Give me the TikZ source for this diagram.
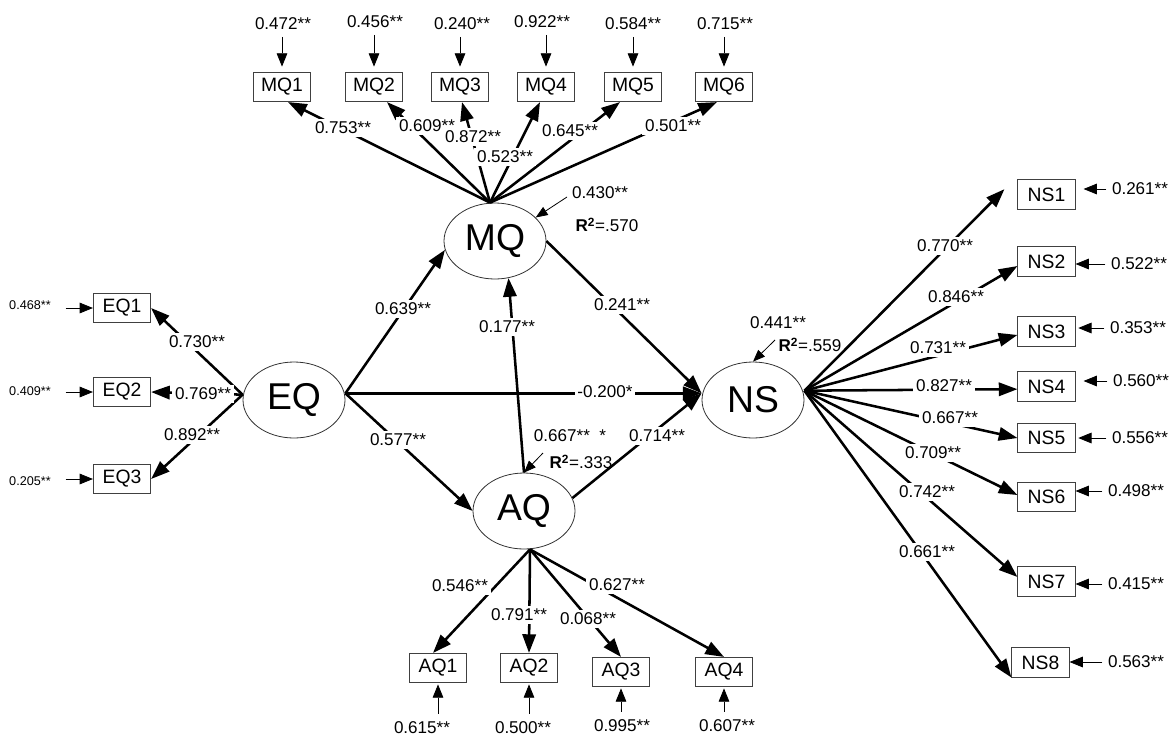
\documentclass[tikz,border=0pt]{standalone}
\usepackage{fontspec}
\setmainfont{Liberation Sans}
\usetikzlibrary{arrows.meta,shapes.geometric,calc}
\begin{document}
\begin{tikzpicture}[x=0.75pt,y=-0.75pt,
 lat/.style={ellipse,draw=black!80,line width=0.6pt,minimum width=76.5pt,minimum height=57pt,inner sep=0pt,font=\fontsize{28}{30}\selectfont},
 ind/.style={rectangle,draw=black!75,line width=0.6pt,minimum width=43pt,minimum height=22pt,inner sep=0pt,font=\fontsize{14.5}{16}\selectfont},
 lbl/.style={font=\fontsize{12.8}{14}\selectfont,inner sep=1pt},
 onl/.style={lbl,fill=white,inner xsep=2pt,inner ysep=2pt},
 sml/.style={font=\fontsize{9.5}{11}\selectfont,inner sep=1pt},
 load/.style={line width=1.9pt,-{Triangle[length=14pt,width=10pt]}},
 res/.style={line width=0.6pt,-{Triangle[length=10pt,width=8pt]}},
 dist/.style={line width=0.6pt,-{Triangle[length=9pt,width=7pt]}}
]
\path[use as bounding box] (0,0) rectangle (1170,736);

% latent variables
\node[lat] (MQ) at (495,241) {MQ};
\node[lat] (EQ) at (294,400) {EQ};
\node[lat] (AQ) at (524,511) {AQ};
\node[lat] (NS) at (753,400) {NS};

% MQ indicators
\node[ind] (mq1) at (282,87) {MQ1};
\node[ind] (mq2) at (374,87) {MQ2};
\node[ind] (mq3) at (460,87) {MQ3};
\node[ind] (mq4) at (546,87) {MQ4};
\node[ind] (mq5) at (633,87) {MQ5};
\node[ind] (mq6) at (724,87) {MQ6};
\node[lbl] (rm1) at (283,24) {0.472**};
\node[lbl] (rm2) at (375,22) {0.456**};
\node[lbl] (rm3) at (462,24) {0.240**};
\node[lbl] (rm4) at (542,22) {0.922**};
\node[lbl] (rm5) at (633,24) {0.584**};
\node[lbl] (rm6) at (725,24) {0.715**};
\foreach \i in {1,...,6}{
  \draw[res,shorten <=4pt,shorten >=4pt] (rm\i.south -| mq\i.north) -- (mq\i.north);
}

% EQ indicators
\node[ind] (eq1) at (122,308) {EQ1};
\node[ind] (eq2) at (122,392) {EQ2};
\node[ind] (eq3) at (122,479) {EQ3};
\node[sml] (re1) at (30,305) {0.468**};
\node[sml] (re2) at (30,391) {0.409**};
\node[sml] (re3) at (30,481) {0.205**};
\foreach \i in {1,2,3}{
  \draw[res,shorten <=10pt] (re\i.east |- eq\i.west) -- (eq\i.west);
}

% AQ indicators
\node[ind] (aq1) at (438,668) {AQ1};
\node[ind] (aq2) at (529,668) {AQ2};
\node[ind] (aq3) at (621,672) {AQ3};
\node[ind] (aq4) at (724,672) {AQ4};
\node[lbl] (ra1) at (422,728) {0.615**};
\node[lbl] (ra2) at (523,728) {0.500**};
\node[lbl] (ra3) at (622,726) {0.995**};
\node[lbl] (ra4) at (727,726) {0.607**};
\foreach \i in {1,...,4}{
  \draw[res,shorten <=5pt,shorten >=1pt] (ra\i.north -| aq\i.south) -- (aq\i.south);
}

% NS indicators
\node[ind] (ns1) at (1046.5,194.5) {NS1};
\node[ind] (ns2) at (1046.5,261.5) {NS2};
\node[ind] (ns3) at (1046.5,331.5) {NS3};
\node[ind] (ns4) at (1046.5,386.5) {NS4};
\node[ind] (ns5) at (1046.5,438) {NS5};
\node[ind] (ns6) at (1046.5,497) {NS6};
\node[ind] (ns7) at (1046.5,581.5) {NS7};
\node[ind] (ns8) at (1040.5,662.5) {NS8};
\node[lbl] (rn1) at (1140,189) {0.261**};
\node[lbl] (rn2) at (1139,264) {0.522**};
\node[lbl] (rn3) at (1138,328) {0.353**};
\node[lbl] (rn4) at (1141,381) {0.560**};
\node[lbl] (rn5) at (1140,438) {0.556**};
\node[lbl] (rn6) at (1136,491) {0.498**};
\node[lbl] (rn7) at (1136,584) {0.415**};
\node[lbl] (rn8) at (1136,662) {0.563**};
\draw[res,shorten <=3pt,shorten >=6pt] (rn1.west) -- (rn1.west -| ns1.east);
\draw[res,shorten <=3pt] (rn2.west) -- (rn2.west -| ns2.east);
\draw[res,shorten <=3pt,shorten >=2pt] (rn3.west) -- (rn3.west -| ns3.east);
\draw[res,shorten <=3pt,shorten >=6pt] (rn4.west) -- (rn4.west -| ns4.east);
\draw[res,shorten <=3pt,shorten >=2pt] (rn5.west) -- (rn5.west -| ns5.east);
\draw[res,shorten <=3pt] (rn6.west) -- (rn6.west -| ns6.east);
\draw[res,shorten <=3pt] (rn7.west) -- (rn7.west -| ns7.east);
\draw[res,shorten <=3pt] (rn8.west) -- (rn8.west -| ns8.east);

% disturbances / R2
\node[lbl] (dm) at (600,193) {0.430**};
\node[lbl] (qm) at (607,225) {\textbf{R}\textsuperscript{\textbf{2}}=.570};
\coordinate (dmt) at (567,197);
\draw[dist] (dmt) -- (MQ.30);
\node[lbl] (dn) at (778,323) {0.441**};
\node[lbl] (qn) at (810,345) {\textbf{R}\textsuperscript{\textbf{2}}=.559};
\coordinate (dnt) at (775,340);
\draw[dist] (dnt) -- (NS.north);
\node[lbl] (da) at (570,436) {0.667**\ \ *};
\node[lbl] (qa) at (581,462) {\textbf{R}\textsuperscript{\textbf{2}}=.333};
\coordinate (dat) at (543,453);
\draw[dist] (dat) -- (AQ.north);

% anchor points
\coordinate (eqE) at ([yshift=5pt]EQ.east);
\coordinate (eqW) at ([yshift=4pt]EQ.west);
\coordinate (nsW) at ([yshift=5pt]NS.west);
\coordinate (nsE) at ([yshift=7pt]NS.east);
\coordinate (mqT) at ([xshift=-3.75pt]MQ.north);
\coordinate (aqS) at ([xshift=4.5pt]AQ.south);

% structural paths
\draw[load] (eqE) -- (MQ.190);
\draw[load] (eqE) -- (nsW);
\draw[load] (eqE) -- (AQ.west);
\draw[load] (AQ.north) -- (MQ.-70);
\draw[load] (MQ.east) -- (nsW);
\draw[load] (AQ.15) -- (nsW);

% MQ loadings
\draw[load] (mqT) -- ([xshift=4.5pt]mq1.south);
\draw[load] (mqT) -- ([xshift=9.75pt]mq2.south);
\draw[load] (mqT) -- ([xshift=1.5pt]mq3.south);
\draw[load] (mqT) -- ([xshift=-4.5pt]mq4.south);
\draw[load] (mqT) -- ([xshift=-9.75pt]mq5.south);
\draw[load] (mqT) -- ([xshift=-5.25pt]mq6.south);

% EQ loadings
\draw[load] (eqW) -- (eq1.east);
\draw[load] (eqW) -- (eq2.east);
\draw[load] (eqW) -- (eq3.east);

% AQ loadings
\draw[load] (aqS) -- ([xshift=-3.75pt]aq1.north);
\draw[load] (aqS) -- (aq2.north);
\draw[load] (aqS) -- (aq3.north);
\draw[load] (aqS) -- (aq4.north);

% NS loadings
\draw[load] (nsE) -- ([xshift=-9.75pt,yshift=4pt]ns1.west);
\draw[load] (nsE) -- ([yshift=-3.4pt]ns2.west);
\draw[load] (nsE) -- ([yshift=-2.6pt]ns3.west);
\draw[load] (nsE) -- ([yshift=-2pt]ns4.west);
\draw[load] (nsE) -- (ns5.west);
\draw[load] (nsE) -- ([yshift=1.5pt]ns6.west);
\draw[load] (nsE) -- ([yshift=3.4pt]ns7.west);
\draw[load] (nsE) -- (ns8.south west);

% path labels
\node[onl] at (343,128) {0.753**};
\node[onl] at (427,126) {0.609**};
\node[onl] at (473,137) {0.872**};
\node[onl] at (505,157) {0.523**};
\node[onl] at (570,131) {0.645**};
\node[onl] at (673,126) {0.501**};
\node[onl] at (197,342) {0.730**};
\node[onl] at (203,394) {0.769**};
\node[onl] at (192,435) {0.892**};
\node[onl] at (403,309) {0.639**};
\node[onl] at (605,392) {-0.200*};
\node[onl] at (398,440) {0.577**};
\node[onl] at (507,327) {0.177**};
\node[onl] at (622,305) {0.241**};
\node[onl] at (657,436) {0.714**};
\node[onl] at (460,586) {0.546**};
\node[onl] at (519,615) {0.791**};
\node[onl] at (588,619) {0.068**};
\node[onl] at (617,585) {0.627**};
\node[onl] at (945,246) {0.770**};
\node[onl] at (956,297) {0.846**};
\node[onl] at (938,348) {0.731**};
\node[onl] at (944,386) {0.827**};
\node[onl] at (950,418) {0.667**};
\node[onl] at (933,453) {0.709**};
\node[onl] at (927,492) {0.742**};
\node[onl] at (927,552) {0.661**};
\end{tikzpicture}
\end{document}
